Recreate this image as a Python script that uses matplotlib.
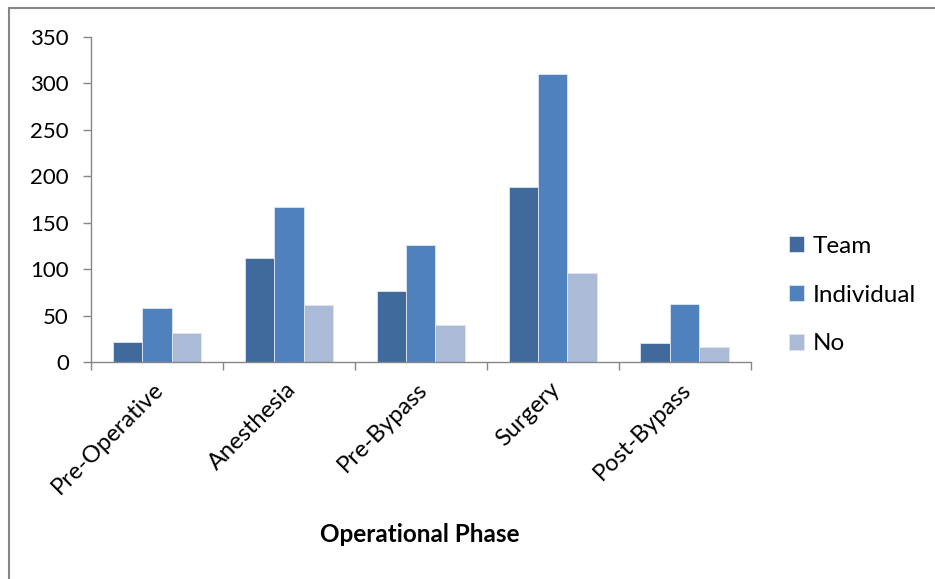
import matplotlib
matplotlib.use("Agg")
import matplotlib.pyplot as plt
from matplotlib.lines import Line2D
from matplotlib.transforms import ScaledTranslation
import numpy as np

phases = ["Pre-Operative", "Anesthesia", "Pre-Bypass", "Surgery", "Post-Bypass"]
series_names = ["Team", "Individual", "No"]
team = [22, 112, 77, 188, 20]
individual = [58, 167, 126, 310, 62]
no_resp = [31, 61, 40, 96, 16]
y_ticks = [0, 50, 100, 150, 200, 250, 300, 350]

colors = ["#406A9C", "#4F81BD", "#AABAD7"]
axis_gray = "#868686"

plt.rcParams["font.family"] = ["Lato", "DejaVu Sans"]

fig = plt.figure(figsize=(9.35, 5.79), dpi=100)
ax = fig.add_axes([0.0973, 0.3748, 0.8027 - 0.0973, 0.936 - 0.3748])

x = np.arange(len(phases))
width = 0.223
for i, (vals, name) in enumerate(zip([team, individual, no_resp], series_names)):
    ax.bar(x + (i - 1) * width, vals, width, color=colors[i], label=name,
           edgecolor="#dfe6f1", linewidth=0.6)

ax.set_xlim(-0.5, len(phases) - 0.5)
ax.set_ylim(0, 350)
ax.set_yticks(y_ticks)
ax.tick_params(axis="y", labelsize=16, length=6, width=1, color=axis_gray, pad=10)

ax.set_xticks(x)
ax.set_xticklabels(phases, rotation=45, ha="right", rotation_mode="anchor", fontsize=17)
ax.tick_params(axis="x", which="major", length=0, pad=12)
ax.set_xticks(np.arange(-0.5, len(phases)), minor=True)
ax.tick_params(axis="x", which="minor", length=6, width=1, color=axis_gray)
shift = ScaledTranslation(-4 / 100, 0, fig.dpi_scale_trans)
for lbl in ax.get_xticklabels():
    lbl.set_transform(lbl.get_transform() + shift)

for side in ["top", "right"]:
    ax.spines[side].set_visible(False)
for side in ["left", "bottom"]:
    ax.spines[side].set_color(axis_gray)
    ax.spines[side].set_linewidth(1)

fig.text(0.449, 1 - 535 / 579, "Operational Phase", ha="center", va="center",
         fontsize=17.5, fontweight="bold")

ax.legend(loc="center left", bbox_to_anchor=(0.844, 1 - 295 / 579),
          bbox_transform=fig.transFigure, frameon=False, fontsize=17.5,
          handlelength=0.62, handleheight=0.62, handletextpad=0.35,
          labelspacing=1.15, borderpad=0, borderaxespad=0)

# outer frame
fx = 8.5 / 935
fy = 1 - 8 / 579
fig.add_artist(Line2D([fx, fx], [0, fy], transform=fig.transFigure, color=axis_gray, lw=1.5))
fig.add_artist(Line2D([fx, 1], [fy, fy], transform=fig.transFigure, color=axis_gray, lw=1.5))

fig.savefig("out.png", dpi=100)
